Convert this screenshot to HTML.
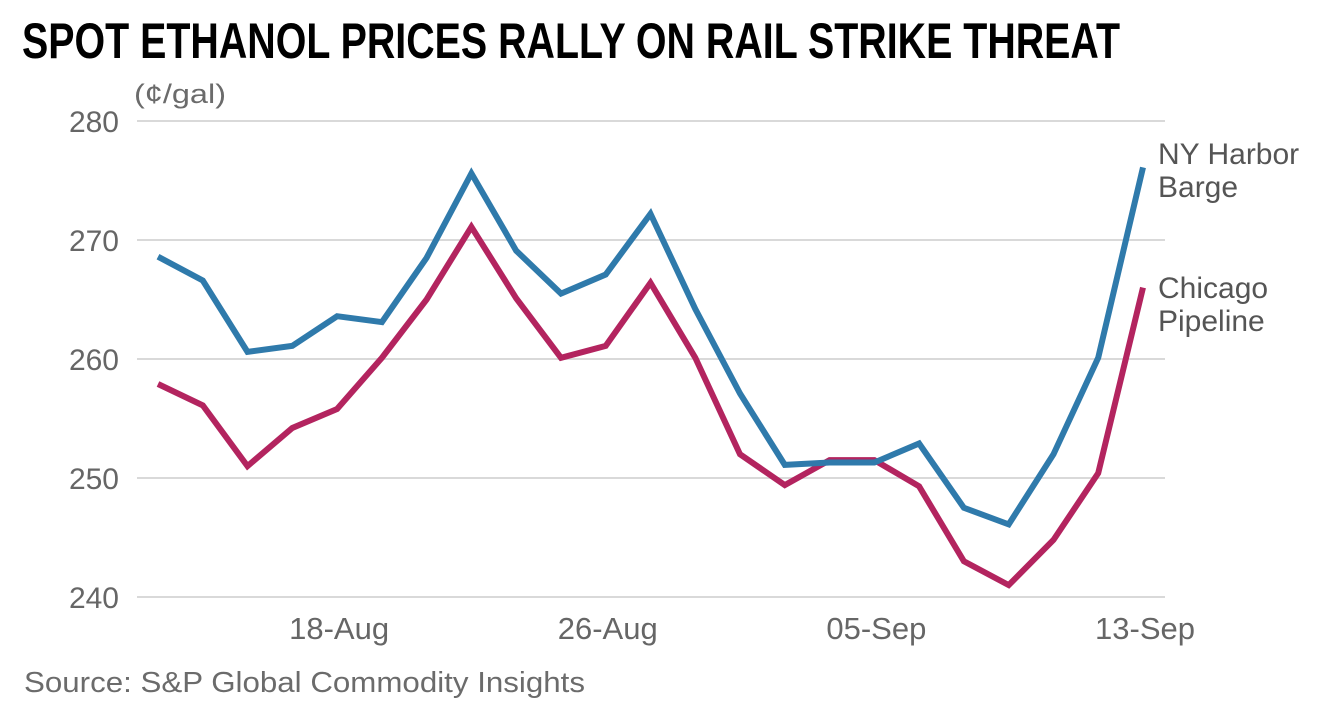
<!DOCTYPE html>
<html><head><meta charset="utf-8"><style>
html,body{margin:0;padding:0;background:#fff;}
svg{display:block;font-family:"Liberation Sans",sans-serif;}
</style></head><body>
<svg id="chart" width="1332" height="714" viewBox="0 0 1332 714">
<text x="22" y="58" font-size="50" font-weight="bold" fill="#000" font-family="Liberation Sans Narrow, Liberation Sans, sans-serif" textLength="1098" lengthAdjust="spacingAndGlyphs">SPOT ETHANOL PRICES RALLY ON RAIL STRIKE THREAT</text>
<text x="134" y="103" font-size="27" fill="#6b6b6b" textLength="92" lengthAdjust="spacingAndGlyphs">(¢/gal)</text>
<g id="grid"></g><g id="yticks"></g><g id="xticks"></g><g id="lines"></g>
<text x="1158" y="164" font-size="30" fill="#555"><tspan x="1158">NY Harbor</tspan><tspan x="1158" dy="33">Barge</tspan></text>
<text x="1158" y="298" font-size="30" fill="#555"><tspan x="1158">Chicago</tspan><tspan x="1158" dy="33">Pipeline</tspan></text>
<text x="24" y="692" font-size="29" fill="#6b6b6b" textLength="561" lengthAdjust="spacingAndGlyphs">Source: S&amp;P Global Commodity Insights</text>
</svg>
<script>
const dates = ["12-Aug","15-Aug","16-Aug","17-Aug","18-Aug","19-Aug","22-Aug","23-Aug","24-Aug","25-Aug","26-Aug","29-Aug","30-Aug","31-Aug","01-Sep","02-Sep","05-Sep","06-Sep","07-Sep","08-Sep","09-Sep","12-Sep","13-Sep"];
const nyHarbor = [268.6,266.6,260.6,261.1,263.6,263.1,268.5,275.6,269.1,265.5,267.1,272.2,264.2,257.1,251.1,251.3,251.3,252.9,247.5,246.1,252.0,260.1,276.1];
const chicago = [257.9,256.1,251.0,254.2,255.8,260.1,265.0,271.1,265.1,260.1,261.1,266.4,260.1,252.0,249.4,251.5,251.5,249.3,243.0,241.0,244.8,250.4,266.0];
const yTicks = [240,250,260,270,280];
const xTickLabels = ["18-Aug","26-Aug","05-Sep","13-Sep"];

const NS="http://www.w3.org/2000/svg";
const x0=158,x1=1143,yMin=240,yMax=280,py0=597,py1=121;
const xs=i=>x0+(x1-x0)*i/(dates.length-1);
const ys=v=>py0-(v-yMin)/(yMax-yMin)*(py0-py1);
function mk(tag,attrs,parent){const e=document.createElementNS(NS,tag);for(const k in attrs)e.setAttribute(k,attrs[k]);parent.appendChild(e);return e;}
const grid=document.getElementById('grid'),yt=document.getElementById('yticks'),xt=document.getElementById('xticks'),lg=document.getElementById('lines');
yTicks.forEach(v=>{
  const l=mk('line',{x1:137,x2:1165,y1:ys(v),y2:ys(v),stroke:'#d9d9d9','stroke-width':2},grid);
  
  
  const t=mk('text',{x:119,y:ys(v)+11,'text-anchor':'end','font-size':30,fill:'#666'},yt);
  t.textContent=v;
  
  
});
xTickLabels.forEach(lab=>{
  const i=dates.indexOf(lab);
  const t=mk('text',{x:xs(i)+2,y:639,'text-anchor':'middle','font-size':31,fill:'#666'},xt);
  t.textContent=lab;
  
  
});
function line(vals,color,name){
  const d=vals.map((v,i)=>(i?'L':'M')+xs(i).toFixed(1)+','+ys(v).toFixed(1)).join('');
  const p=mk('path',{d:d,fill:'none',stroke:color,'stroke-width':6,'stroke-linejoin':'miter'},lg);
  
  
}
line(chicago,'#b3245f','chicago-pipeline-line');
line(nyHarbor,'#2f7aab','ny-harbor-barge-line');
</script>
</body></html>
